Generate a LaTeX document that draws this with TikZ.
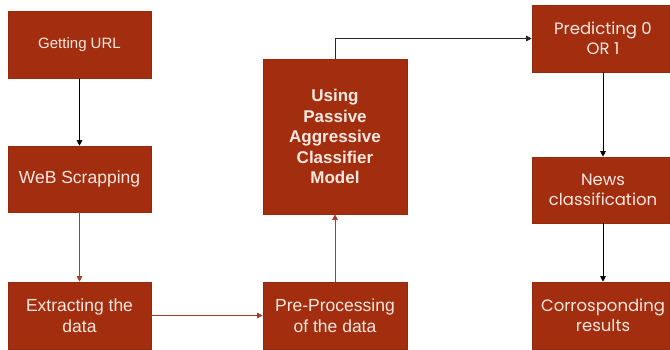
\documentclass[tikz,border=0pt]{standalone}
\usepackage{fontspec}
\setmainfont{Liberation Sans}
\newfontfamily\gothic{Poppins}
\usetikzlibrary{arrows.meta}
\definecolor{boxfill}{RGB}{163,46,15}
\definecolor{boxedge}{RGB}{150,42,14}
\definecolor{boxtext}{RGB}{250,232,224}
\definecolor{redline}{RGB}{170,60,40}
\begin{document}
\begin{tikzpicture}[x=1pt,y=-1pt,
  box/.style={draw=boxedge,fill=boxfill,text=boxtext,line width=0.6pt,
    minimum width=143pt,minimum height=67pt,inner sep=2pt,align=center,
    font=\fontsize{17.5}{20.5}\selectfont},
  gbox/.style={box,minimum width=142pt,font=\gothic\fontsize{16.5}{20}\selectfont},
  blk/.style={draw=black,line width=0.8pt,-{Triangle[width=5.5pt,length=5.5pt]}},
  red/.style={draw=redline,line width=0.8pt,-{Triangle[width=5.5pt,length=5.5pt]}}]
\useasboundingbox (0,0) rectangle (670,349);
\clip (0,0) rectangle (670,349);
\node[box,font=\fontsize{15}{18}\selectfont] (url) at (79.5,44.5) {Getting URL};
\node[box,minimum height=66pt] (web) at (79.5,179) {WeB Scrapping};
\node[box] (ext) at (79.5,315.5) {Extracting the\\data};
\node[box,minimum width=144pt] (pre) at (335,315.5) {Pre-Processing\\of the data};
\node[box,minimum width=144pt,minimum height=155pt,font=\bfseries\fontsize{17}{20.5}\selectfont] (pac) at (335,136.5) {Using\\Passive\\Aggressive\\Classifier\\Model};
\node[gbox] (pred) at (603,38.5) {Predicting 0\\OR 1};
\node[gbox,minimum height=66pt] (news) at (603,190) {News\\classification};
\node[gbox] (res) at (603,315.5) {Corrosponding\\results};
\draw[blk] (url) -- (web);
\draw[red] (web) -- (ext);
\draw[red] (ext) -- (pre);
\draw[red] (pre) -- (pac);
\draw[blk,draw=black!85] (pac.north) |- (pred.west);
\draw[blk] (pred) -- (news);
\draw[blk] (news) -- (res);
\end{tikzpicture}
\end{document}
